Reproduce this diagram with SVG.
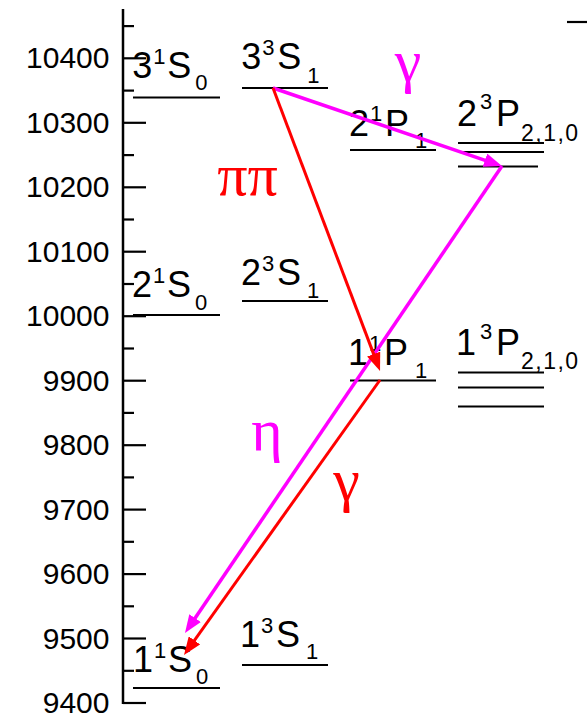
<svg xmlns="http://www.w3.org/2000/svg" width="587" height="718" viewBox="0 0 587 718">
<style>
.ax{stroke:#000;stroke-width:2.5;fill:none}
.tk{stroke:#000;stroke-width:2.2}
.lv{stroke:#000;stroke-width:2.2}
.num{font-family:"Liberation Sans",Arial,sans-serif;font-size:30px;fill:#000;text-anchor:end}
.m{font-family:"Liberation Sans",Arial,sans-serif;font-size:36px;fill:#000}
.s{font-family:"Liberation Sans",Arial,sans-serif;font-size:22px;fill:#000}
.t{font-family:"Liberation Sans",Arial,sans-serif;font-size:23px;fill:#000;letter-spacing:1.5px}
.gk{font-family:"Liberation Serif","DejaVu Serif",serif;font-size:60px;text-anchor:middle}
.mg{stroke:#FF00FF;stroke-width:3.5;fill:none}
.rd{stroke:#FF0000;stroke-width:3;fill:none}
</style>
<defs>
<marker id="am" viewBox="0 0 18 14" refX="8" refY="7" markerWidth="18" markerHeight="14" markerUnits="userSpaceOnUse" orient="auto"><path d="M0,0 L18,7 L0,14 z" fill="#FF00FF"/></marker>
<marker id="ar" viewBox="0 0 18 14" refX="8" refY="7" markerWidth="18" markerHeight="14" markerUnits="userSpaceOnUse" orient="auto"><path d="M0,0 L18,7 L0,14 z" fill="#FF0000"/></marker>
</defs>
<rect width="587" height="718" fill="#fff"/>
<g id="axis">
<line class="ax" x1="123" y1="9" x2="123" y2="704"/>
<g class="tk">
<line x1="123" y1="703" x2="146" y2="703"/>
<line x1="123" y1="638.5" x2="146" y2="638.5"/>
<line x1="123" y1="574.1" x2="146" y2="574.1"/>
<line x1="123" y1="509.6" x2="146" y2="509.6"/>
<line x1="123" y1="445.2" x2="146" y2="445.2"/>
<line x1="123" y1="380.7" x2="146" y2="380.7"/>
<line x1="123" y1="316.2" x2="146" y2="316.2"/>
<line x1="123" y1="251.7" x2="146" y2="251.7"/>
<line x1="123" y1="187.3" x2="146" y2="187.3"/>
<line x1="123" y1="122.8" x2="146" y2="122.8"/>
<line x1="123" y1="58.3" x2="146" y2="58.3"/>
<line x1="123" y1="670.8" x2="134" y2="670.8"/>
<line x1="123" y1="606.3" x2="134" y2="606.3"/>
<line x1="123" y1="541.8" x2="134" y2="541.8"/>
<line x1="123" y1="477.4" x2="134" y2="477.4"/>
<line x1="123" y1="412.9" x2="134" y2="412.9"/>
<line x1="123" y1="348.5" x2="134" y2="348.5"/>
<line x1="123" y1="284" x2="134" y2="284"/>
<line x1="123" y1="219.5" x2="134" y2="219.5"/>
<line x1="123" y1="155.1" x2="134" y2="155.1"/>
<line x1="123" y1="90.6" x2="134" y2="90.6"/>
<line x1="123" y1="26.1" x2="134" y2="26.1"/>
</g>
<text class="num" x="109.5" y="713">9400</text>
<text class="num" x="109.5" y="648.5">9500</text>
<text class="num" x="109.5" y="584.1">9600</text>
<text class="num" x="109.5" y="519.6">9700</text>
<text class="num" x="109.5" y="455.2">9800</text>
<text class="num" x="109.5" y="390.7">9900</text>
<text class="num" x="109.5" y="326.2">10000</text>
<text class="num" x="109.5" y="261.7">10100</text>
<text class="num" x="109.5" y="197.3">10200</text>
<text class="num" x="109.5" y="132.8">10300</text>
<text class="num" x="109.5" y="68.3">10400</text>
<line class="tk" x1="567" y1="22" x2="587" y2="22"/>
</g>
<g id="s31S0">
<line class="lv" x1="133" y1="97.5" x2="220" y2="97.5"/>
<text class="m" x="132.3" y="78">3</text><text class="s" x="153.3" y="64">1</text><text class="m" x="167.3" y="78">S</text><text class="s" x="195.3" y="90">0</text>
</g>
<g id="s33S1">
<line class="lv" x1="242" y1="88" x2="328" y2="88"/>
<text class="m" x="241.3" y="69">3</text><text class="s" x="262.3" y="55">3</text><text class="m" x="277.3" y="69">S</text><text class="s" x="307.3" y="83">1</text>
</g>
<g id="s21P1">
<line class="lv" x1="350" y1="150" x2="436" y2="150"/>
<text class="m" x="349" y="136">2</text><text class="s" x="370" y="121">1</text><text class="m" x="385" y="136">P</text><text class="s" x="415" y="148">1</text>
</g>
<g id="s23P">
<line class="lv" x1="458" y1="143" x2="544" y2="143"/>
<line class="lv" x1="458" y1="152" x2="544" y2="152"/>
<line class="lv" x1="458" y1="166.5" x2="538" y2="166.5"/>
<text class="m" x="457" y="126">2</text><text class="s" x="480" y="109">3</text><text class="m" x="496" y="126">P</text><text class="t" x="521" y="141">2,1,0</text>
</g>
<g id="s21S0">
<line class="lv" x1="133" y1="315" x2="220" y2="315"/>
<text class="m" x="132" y="297">2</text><text class="s" x="153" y="283">1</text><text class="m" x="167" y="297">S</text><text class="s" x="195" y="310">0</text>
</g>
<g id="s23S1">
<line class="lv" x1="242" y1="301" x2="328" y2="301"/>
<text class="m" x="241" y="285">2</text><text class="s" x="262" y="271">3</text><text class="m" x="277" y="285">S</text><text class="s" x="307" y="298">1</text>
</g>
<g id="s11P1">
<line class="lv" x1="350" y1="380.5" x2="436" y2="380.5"/>
<text class="m" x="348" y="365">1</text><text class="s" x="369" y="351">1</text><text class="m" x="384" y="365">P</text><text class="s" x="415" y="378">1</text>
</g>
<g id="s13P">
<line class="lv" x1="458" y1="372.5" x2="544" y2="372.5"/>
<line class="lv" x1="458" y1="387.5" x2="544" y2="387.5"/>
<line class="lv" x1="458" y1="406.5" x2="544" y2="406.5"/>
<text class="m" x="456" y="355">1</text><text class="s" x="480" y="339">3</text><text class="m" x="496" y="355">P</text><text class="t" x="521" y="369">2,1,0</text>
</g>
<g id="s11S0">
<line class="lv" x1="133" y1="688" x2="220" y2="688"/>
<text class="m" x="133" y="672">1</text><text class="s" x="154" y="658">1</text><text class="m" x="168" y="672">S</text><text class="s" x="196" y="684">0</text>
</g>
<g id="s13S1">
<line class="lv" x1="242" y1="665" x2="328" y2="665"/>
<text class="m" x="240" y="647">1</text><text class="s" x="261" y="633">3</text><text class="m" x="276" y="647">S</text><text class="s" x="306" y="659">1</text>
</g>
<g id="connectors">
<line class="mg" x1="273" y1="88" x2="492.5" y2="162.8" marker-end="url(#am)"/>
<line class="mg" x1="502" y1="166" x2="190.6" y2="624.7" marker-end="url(#am)"/>
<line class="rd" x1="273" y1="88" x2="376.5" y2="361.6" marker-end="url(#ar)"/>
<line class="rd" x1="380" y1="380" x2="189.8" y2="646.9" marker-end="url(#ar)"/>
<text class="gk" x="408" y="81" fill="#FF00FF">γ</text>
<text class="gk" x="247.5" y="195" fill="#FF0000">ππ</text>
<text class="gk" x="267" y="450" fill="#FF00FF">η</text>
<text class="gk" x="346.5" y="500" fill="#FF0000">γ</text>
</g>
</svg>
